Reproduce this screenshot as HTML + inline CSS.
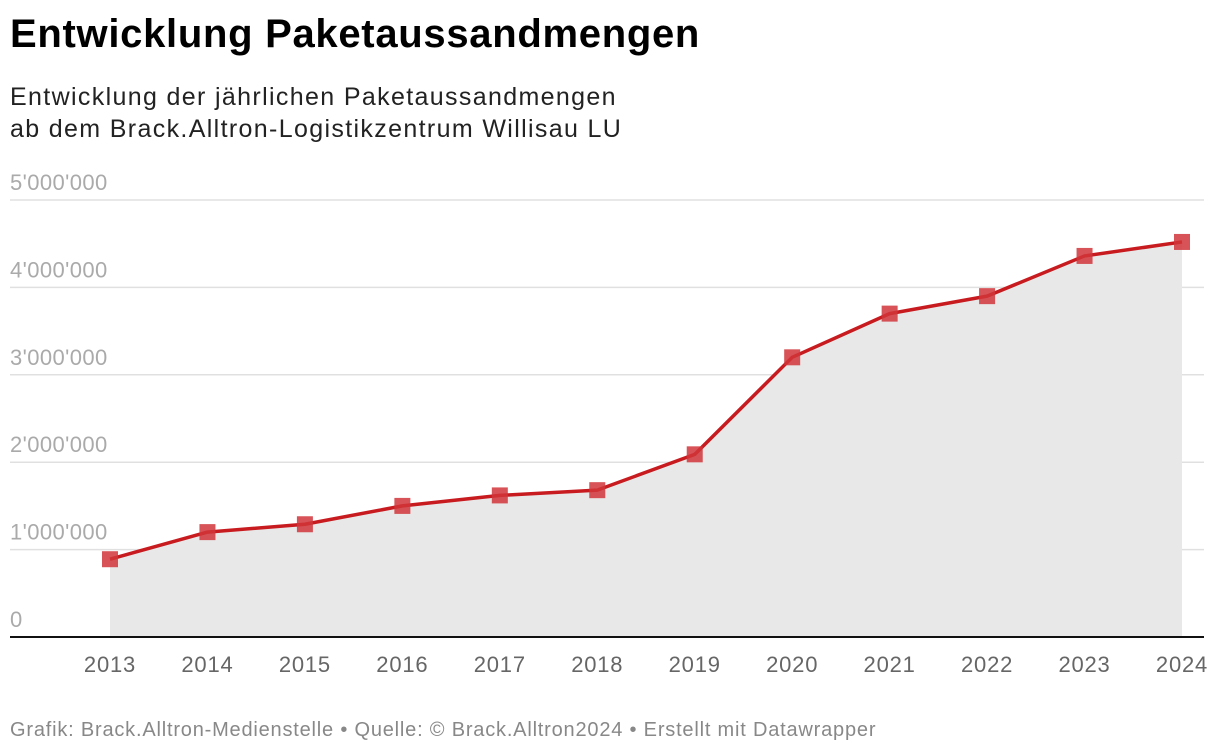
<!DOCTYPE html>
<html><head><meta charset="utf-8"><style>
body{margin:0;width:1220px;height:754px;background:#fff;font-family:"Liberation Sans",sans-serif;overflow:hidden;position:relative}
.t{position:absolute;left:10px;white-space:nowrap}
</style></head><body>
<div class="t" style="top:12px;font-size:40px;font-weight:bold;color:#000;letter-spacing:0.7px">Entwicklung Paketaussandmengen</div>
<div class="t" style="top:81px;font-size:25px;color:#222;line-height:32px;letter-spacing:1.35px">Entwicklung der jährlichen Paketaussandmengen<br>ab dem Brack.Alltron-Logistikzentrum Willisau LU</div>
<svg id="chart" width="1220" height="754" style="position:absolute;left:0;top:0"></svg>
<div class="t" style="top:719px;font-size:20px;color:#888;letter-spacing:0.8px">Grafik: Brack.Alltron-Medienstelle • Quelle: © Brack.Alltron2024 • Erstellt mit Datawrapper</div>
<script>
const years=["2013","2014","2015","2016","2017","2018","2019","2020","2021","2022","2023","2024"];
const values=[890000,1200000,1290000,1500000,1620000,1680000,2090000,3200000,3700000,3900000,4360000,4520000];
const yTicks=[0,1000000,2000000,3000000,4000000,5000000];
const yTickLabels=["0","1'000'000","2'000'000","3'000'000","4'000'000","5'000'000"];
const svg=document.getElementById('chart');
const NS='http://www.w3.org/2000/svg';
const x=i=>110+i*(1182-110)/(years.length-1);
const y=v=>637-v*(637-200)/5000000;
function mk(t,a){const e=document.createElementNS(NS,t);for(const k in a)e.setAttribute(k,a[k]);svg.appendChild(e);return e;}
yTicks.forEach((v,i)=>{
 if(v>0){const g=mk('line',{x1:10,x2:1204,y1:y(v),y2:y(v),stroke:'#e0e0e0','stroke-width':1.5});
 
 }
 const t=mk('text',{x:10,y:y(v)-10,'font-size':22,fill:'#aaa','letter-spacing':0.4,'font-family':'Liberation Sans, sans-serif'});
 t.textContent=yTickLabels[i];
 
 
});
let pts=values.map((v,i)=>x(i)+','+y(v)).join(' ');
const area=mk('polygon',{points:x(0)+','+y(0)+' '+pts+' '+x(values.length-1)+','+y(0),fill:'#e8e8e8'});


const base=mk('line',{x1:10,x2:1204,y1:637,y2:637,stroke:'#111','stroke-width':2});


const line=mk('polyline',{points:pts,fill:'none',stroke:'#c71b20','stroke-width':3.5,'stroke-linejoin':'round'});


values.forEach((v,i)=>{
 const r=mk('rect',{x:x(i)-8,y:y(v)-8,width:16,height:16,fill:'#d0353a','fill-opacity':0.85});
 
 
 const t=mk('text',{x:x(i),y:672,'font-size':22,fill:'#666','text-anchor':'middle','letter-spacing':0.8,'font-family':'Liberation Sans, sans-serif'});
 t.textContent=years[i];
 
 
});
</script>
</body></html>
